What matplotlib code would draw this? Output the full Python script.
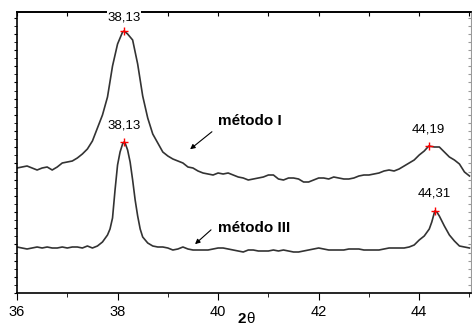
import matplotlib
matplotlib.use('Agg')
import matplotlib.pyplot as plt
from matplotlib.ticker import MultipleLocator, NullFormatter

plt.rcParams['font.family'] = ['Liberation Sans', 'DejaVu Sans']

# método I (curva de cima)
theta_I = [36.0, 36.1, 36.2, 36.3, 36.4, 36.5, 36.6, 36.7, 36.8, 36.9,
           37.0, 37.1, 37.2, 37.3, 37.4, 37.5, 37.6, 37.7, 37.8, 37.9,
           38.0, 38.1, 38.13, 38.2, 38.3, 38.4, 38.5, 38.6, 38.7, 38.8, 38.9,
           39.0, 39.1, 39.2, 39.3, 39.4, 39.5, 39.6, 39.7, 39.8, 39.9,
           40.0, 40.1, 40.2, 40.3, 40.4, 40.5, 40.6, 40.7, 40.8, 40.9,
           41.0, 41.1, 41.2, 41.3, 41.4, 41.5, 41.6, 41.7, 41.8, 41.9,
           42.0, 42.1, 42.2, 42.3, 42.4, 42.5, 42.6, 42.7, 42.8, 42.9,
           43.0, 43.1, 43.2, 43.3, 43.4, 43.5, 43.6, 43.7, 43.8, 43.9,
           44.0, 44.1, 44.19, 44.3, 44.4, 44.5, 44.6, 44.7, 44.8, 44.9, 45.0]
int_I = [125, 126, 127, 125, 123, 125, 126, 123, 126, 130,
         131, 132, 135, 139, 144, 152, 165, 178, 196, 227,
         249, 261, 262, 259, 253, 229, 197, 175, 159, 150, 141,
         137, 134, 132, 130, 126, 125, 122, 120, 119, 118,
         120, 119, 120, 118, 116, 115, 113, 114, 115, 116,
         118, 118, 114, 113, 115, 115, 114, 111, 111, 113,
         115, 115, 114, 116, 115, 114, 114, 115, 117, 118,
         118, 119, 120, 122, 123, 122, 124, 127, 130, 133,
         138, 142, 147, 146, 146, 141, 136, 133, 129, 121, 117]

# método III (curva de baixo)
theta_III = [36.0, 36.1, 36.2, 36.3, 36.4, 36.5, 36.6, 36.7, 36.8, 36.9,
             37.0, 37.1, 37.2, 37.3, 37.4, 37.5, 37.6, 37.7, 37.8, 37.85,
             37.9, 37.95, 38.0, 38.05, 38.1, 38.13, 38.15, 38.2, 38.25, 38.3,
             38.35, 38.4, 38.45, 38.5, 38.6, 38.7, 38.8, 38.9,
             39.0, 39.1, 39.2, 39.3, 39.4, 39.5, 39.6, 39.7, 39.8, 39.9,
             40.0, 40.1, 40.2, 40.3, 40.4, 40.5, 40.6, 40.7, 40.8, 40.9,
             41.0, 41.1, 41.2, 41.3, 41.4, 41.5, 41.6, 41.7, 41.8, 41.9,
             42.0, 42.1, 42.2, 42.3, 42.4, 42.5, 42.6, 42.7, 42.8, 42.9,
             43.0, 43.1, 43.2, 43.3, 43.4, 43.5, 43.6, 43.7, 43.8, 43.9,
             44.0, 44.1, 44.2, 44.25, 44.31, 44.35, 44.4, 44.5, 44.6, 44.7,
             44.8, 44.9, 45.0]
int_III = [46, 45, 44, 45, 46, 45, 46, 45, 45, 46,
           45, 46, 46, 45, 47, 45, 47, 51, 58, 64,
           75, 103, 128, 141, 149, 151, 150, 143, 131, 113,
           93, 77, 64, 56, 50, 47, 46, 46,
           45, 43, 44, 46, 44, 43, 43, 43, 43, 44,
           45, 45, 44, 43, 42, 41, 43, 43, 42, 42,
           42, 43, 42, 43, 42, 41, 41, 42, 43, 44,
           45, 44, 43, 43, 43, 43, 44, 44, 44, 43,
           43, 43, 43, 44, 45, 45, 45, 45, 46, 48,
           53, 57, 64, 71, 82, 81, 77, 67, 58, 52,
           47, 46, 45]

# picos marcados
picos_x = [38.13, 44.19, 38.13, 44.31]
picos_y = [262, 147, 151, 82]
picos_txt = ['38,13', '44,19', '38,13', '44,31']

fig = plt.figure(figsize=(4.72, 3.27), dpi=100)
ax = fig.add_axes([17/472, 1-293/327, 454/472, 281/327])

cor = '#333333'
ax.plot(theta_I, int_I, color=cor, lw=1.2)
ax.plot(theta_III, int_III, color=cor, lw=1.2)
ax.plot(picos_x, picos_y, '+', color='red', ms=6, mew=1)

offs = [8, 10, 11, 11]
for x, y, t, o in zip(picos_x, picos_y, picos_txt, offs):
    ax.text(x, y + o, t, ha='center', va='bottom', fontsize=9.5, clip_on=False,
            zorder=5, bbox=dict(facecolor='white', edgecolor='none', pad=0.1))

ax.annotate('', xy=(39.4, 142), xytext=(39.92, 163),
            arrowprops=dict(arrowstyle='-|>', color='black', lw=0.8,
                            mutation_scale=7))
ax.text(40.0, 172, 'método I', fontsize=11, fontweight='bold', va='center')
ax.annotate('', xy=(39.5, 47), xytext=(39.9, 65),
            arrowprops=dict(arrowstyle='-|>', color='black', lw=0.8,
                            mutation_scale=7))
ax.text(40.0, 65, 'método III', fontsize=11, fontweight='bold', va='center')

ax.set_xlim(36, 45.03)
ax.set_ylim(0, 281)
ax.xaxis.set_major_locator(MultipleLocator(2))
ax.xaxis.set_minor_locator(MultipleLocator(1))
ax.yaxis.set_major_locator(MultipleLocator(16.2))
ax.yaxis.set_minor_locator(MultipleLocator(8.1))
ax.yaxis.set_major_formatter(NullFormatter())
ax.tick_params(axis='x', which='major', direction='out', length=5, labelsize=10.5, pad=4)
ax.tick_params(axis='x', which='minor', direction='out', length=3)
ax.tick_params(axis='y', which='both', direction='out', length=2, labelleft=False)

# eixo de cima e da direita, so com ticks para dentro
topo = ax.secondary_xaxis('top')
topo.xaxis.set_major_locator(MultipleLocator(1))
topo.xaxis.set_major_formatter(NullFormatter())
topo.tick_params(direction='in', length=3, width=0.8)
topo.spines['top'].set_linewidth(1.2)
dir_ = ax.secondary_yaxis('right')
dir_.yaxis.set_major_locator(MultipleLocator(8.1))
dir_.yaxis.set_major_formatter(NullFormatter())
dir_.tick_params(direction='in', length=2, color='#999999')
dir_.spines['right'].set_color('#999999')
dir_.spines['right'].set_linewidth(0.8)

for s in ['left', 'bottom', 'top']:
    ax.spines[s].set_linewidth(1.2)
ax.spines['right'].set_visible(False)

fig.text(238/472, 1-319/327, '2', fontsize=11, fontweight='bold', va='center')
fig.text(246/472, 1-319/327, 'θ', fontsize=11, va='center')

plt.savefig('out.png', dpi=100)
